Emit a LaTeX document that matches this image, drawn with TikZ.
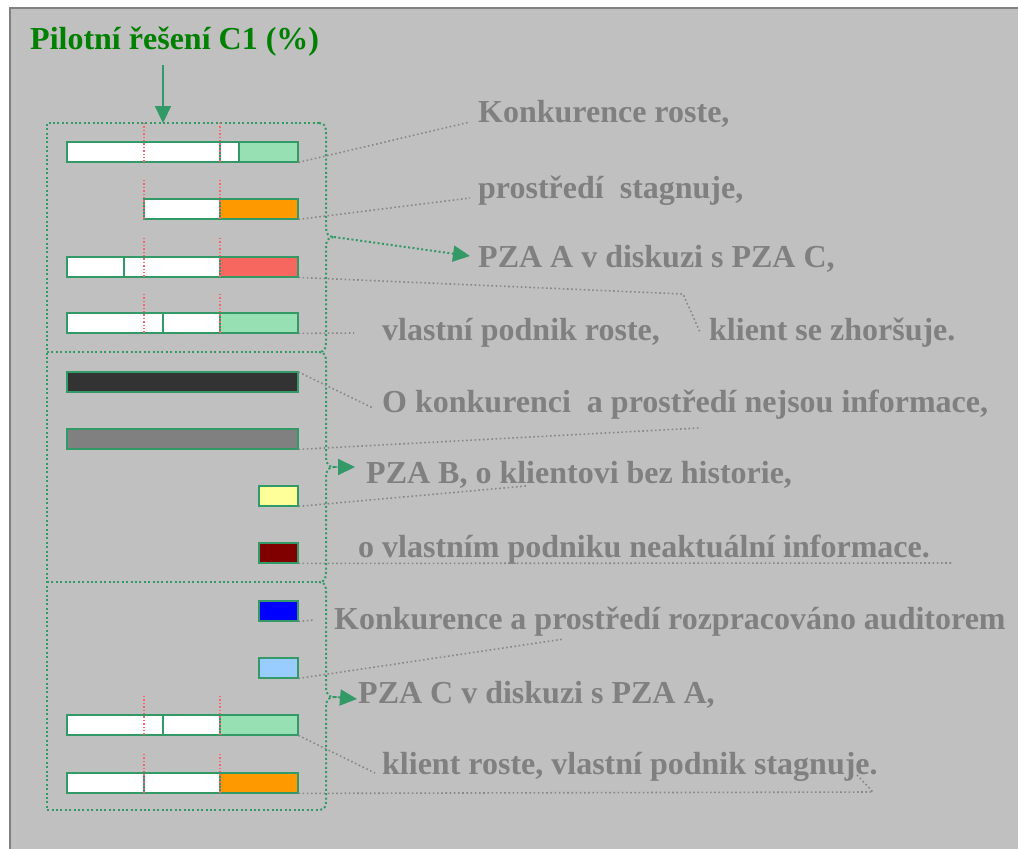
\documentclass[tikz,border=0pt]{standalone}
\usepackage{fontspec}
\setmainfont{Liberation Serif}
\usetikzlibrary{arrows.meta}
\definecolor{bg}{RGB}{192,192,192}
\definecolor{framegray}{RGB}{128,128,128}
\definecolor{txtgray}{RGB}{128,128,128}
\definecolor{conngray}{RGB}{136,136,136}
\definecolor{titlegreen}{RGB}{0,128,0}
\definecolor{pgreen}{RGB}{51,153,102}
\definecolor{lgreen}{RGB}{150,224,180}
\definecolor{porange}{RGB}{255,153,0}
\definecolor{psalmon}{RGB}{248,102,96}
\definecolor{pdark}{RGB}{51,51,51}
\definecolor{pgray}{RGB}{128,128,128}
\definecolor{pyellow}{RGB}{255,255,153}
\definecolor{pmaroon}{RGB}{128,0,0}
\definecolor{pblue}{RGB}{0,0,255}
\definecolor{plblue}{RGB}{153,204,255}
\definecolor{pred}{RGB}{255,100,100}
% one coloured segment of a bar: x1, x2, top, fill
\newcommand\barseg[4]{\filldraw[seg, fill=#4] (#1,#3) rectangle (#2,{#3+20});}
% red dotted guide line through a bar: x, top of bar
\newcommand\guide[2]{\draw[guideline] (#1,{#2-19}) -- (#1,{#2+20});}
\begin{document}
\begin{tikzpicture}[x=1bp,y=-1bp,
  seg/.style={draw=pgreen, line width=2.2bp},
  barname/.style={anchor=north west, inner sep=0, minimum height=20bp},
  guideline/.style={draw=pred, line width=1.4bp, dash pattern=on 1.4bp off 2bp},
  conn/.style={draw=conngray, line width=1.6bp, dash pattern=on 1.6bp off 2.6bp},
  grp/.style={draw=pgreen, line width=2bp, dash pattern=on 2bp off 2.4bp},
  lbl/.style={anchor=base west, inner sep=0, text=txtgray,
    font=\fontsize{32bp}{38bp}\selectfont\bfseries},
  tip/.style={-{Triangle[length=17bp,width=16bp]}}]
\useasboundingbox (0,0) rectangle (1018,849);
\fill[white] (0,0) rectangle (1018,849);
\fill[bg] (9,7) rectangle (1018,849);
\draw[framegray, line width=2bp] (10,849) -- (10,8) -- (1018,8);

% title and its arrow
\node[anchor=base west, inner sep=0, text=titlegreen,
  font=\fontsize{32bp}{38bp}\selectfont\bfseries] (title) at (30,49) {Pilotní řešení C1 (\%)};
\coordinate (tstart) at (163,65);
\coordinate (tend) at (163,123);
\draw[pgreen, line width=2.2bp, tip] (tstart) -- (tend);

% group frames: left edge and separators
\draw[grp] (319,123) -- (47,123) -- (47,810) -- (319,810);
\draw[grp] (47,352) -- (319,352);
\draw[grp] (47,582) -- (319,582);
% right braces
\foreach \t/\m/\b in {123/237/352, 352/467/582, 582/697/810}{
  \draw[grp] (319,\t) .. controls (325,\t) and (326,{\t+4}) .. (326,{\t+10})
    -- (326,{\m-10}) .. controls (326,{\m-4}) and (328,\m) .. (334,\m)
    .. controls (328,\m) and (326,{\m+4}) .. (326,{\m+10})
    -- (326,{\b-10}) .. controls (326,{\b-4}) and (325,\b) .. (319,\b);
}
\coordinate (g1) at (334,237);
\coordinate (g2) at (334,467);
\coordinate (g3) at (334,697);

% bars
\barseg{67}{220}{142}{white}\barseg{220}{239}{142}{white}\barseg{239}{298}{142}{lgreen}
\barseg{144}{220}{199}{white}\barseg{220}{298}{199}{porange}
\barseg{67}{124}{257}{white}\barseg{124}{220}{257}{white}\barseg{220}{298}{257}{psalmon}
\barseg{67}{163}{313}{white}\barseg{163}{220}{313}{white}\barseg{220}{298}{313}{lgreen}
\barseg{67}{298}{372}{pdark}
\barseg{67}{298}{429}{pgray}
\barseg{259}{298}{486}{pyellow}
\barseg{259}{298}{543}{pmaroon}
\barseg{259}{298}{601}{pblue}
\barseg{259}{298}{658}{plblue}
\barseg{67}{163}{715}{white}\barseg{163}{220}{715}{white}\barseg{220}{298}{715}{lgreen}
\barseg{67}{144}{773}{white}\barseg{144}{220}{773}{white}\barseg{220}{298}{773}{porange}

\foreach \y in {142,199,257,313,715,773}{\guide{144}{\y}\guide{220}{\y}}

\node[barname, minimum width=231bp] (b1) at (67,142) {};
\node[barname, minimum width=154bp] (b2) at (144,199) {};
\node[barname, minimum width=231bp] (b3) at (67,257) {};
\node[barname, minimum width=231bp] (b4) at (67,313) {};
\node[barname, minimum width=231bp] (b5) at (67,372) {};
\node[barname, minimum width=231bp] (b6) at (67,429) {};
\node[barname, minimum width=39bp] (b7) at (259,486) {};
\node[barname, minimum width=39bp] (b8) at (259,543) {};
\node[barname, minimum width=39bp] (b9) at (259,601) {};
\node[barname, minimum width=39bp] (b10) at (259,658) {};
\node[barname, minimum width=231bp] (b11) at (67,715) {};
\node[barname, minimum width=231bp] (b12) at (67,773) {};

% texts
\node[lbl] (t1) at (478,122) {Konkurence roste,};
\node[lbl] (t2) at (478,198) {prostředí~ stagnuje,};
\node[lbl] (t3) at (478,267) {PZA A v diskuzi s PZA C,};
\node[lbl] (t4) at (382,340) {vlastní podnik roste,};
\node[lbl] (t5) at (709,340) {klient se zhoršuje.};
\node[lbl] (t6) at (382,412) {O konkurenci~ a prostředí nejsou informace,};
\node[lbl] (t7) at (366,483) {PZA B, o klientovi bez historie,};
\node[lbl] (t8) at (358,557) {o vlastním podniku neaktuální informace.};
\node[lbl] (t9) at (334,629) {Konkurence a prostředí rozpracováno auditorem};
\node[lbl] (t10) at (358,703) {PZA C v diskuzi s PZA A,};
\node[lbl] (t11) at (382,774) {klient roste, vlastní podnik stagnuje.};

% group arrows
\coordinate (a1) at (470,256);
\coordinate (a2) at (355,467);
\coordinate (a3) at (357,699);
\draw[grp, tip] (g1) -- (a1);
\draw[grp, tip] (g2) -- (a2);
\draw[grp, tip] (g3) -- (a3);

% dotted leaders from bars
\coordinate (e1) at (470,122);
\coordinate (e2) at (470,198);
\coordinate (k3) at (683,294);
\coordinate (e3) at (700,332);
\coordinate (e4) at (354,333);
\coordinate (e5) at (373,408);
\coordinate (e6) at (699,428);
\coordinate (e7) at (526,486);
\coordinate (e8) at (951,563);
\coordinate (e9) at (314,620);
\coordinate (e10) at (564,639);
\coordinate (e11) at (375,773);
\coordinate (k12) at (873,792);
\coordinate (e12) at (857,775);
\draw[conn] (b1.south east) -- (e1);
\draw[conn] (b2.south east) -- (e2);
\draw[conn] (b3.south east) -- (k3) -- (e3);
\draw[conn] (b4.south east) -- (e4);
\draw[conn] (b5.north east) -- (e5);
\draw[conn] (b6.south east) -- (e6);
\draw[conn] (b7.south east) -- (e7);
\draw[conn] (b8.south east) -- (e8);
\draw[conn] (b9.south east) -- (e9);
\draw[conn] (b10.south east) -- (e10);
\draw[conn] (b11.south east) -- (e11);
\draw[conn] (b12.south east) -- (k12) -- (e12);
\end{tikzpicture}
\end{document}
